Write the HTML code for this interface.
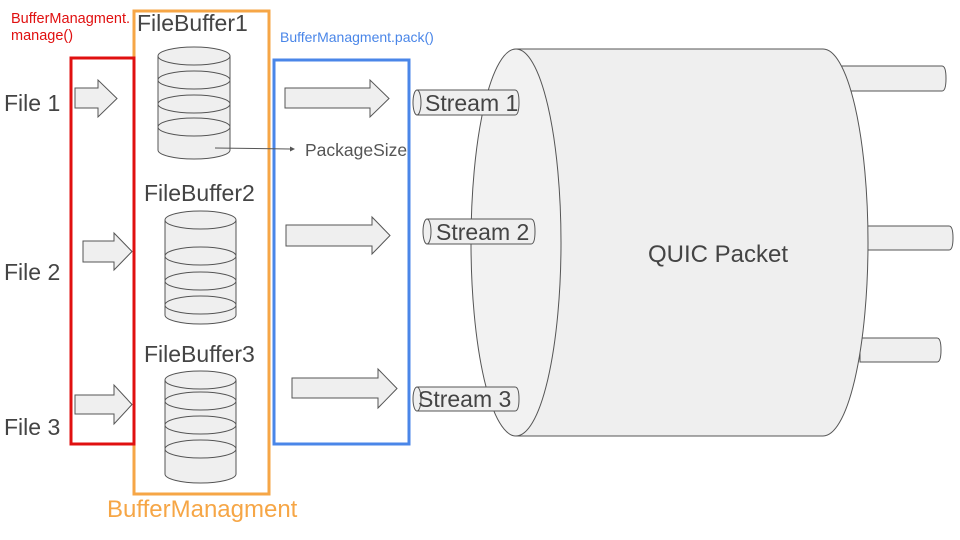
<!DOCTYPE html>
<html><head><meta charset="utf-8"><style>
html,body{margin:0;padding:0;background:#fff}
svg{display:block}
text{font-family:"Liberation Sans",Arial,sans-serif}
</style></head><body>
<svg width="960" height="540" viewBox="0 0 960 540" xmlns="http://www.w3.org/2000/svg">
<g stroke="#555" stroke-width="1" fill="#efefef">
  <path d="M840 66 H942 Q946 66 946 78.5 Q946 91 942 91 H840 Z"/>
  <path d="M860 226 H949 Q953 226 953 238 Q953 250 949 250 H860 Z"/>
  <path d="M860 338 H937 Q941 338 941 350 Q941 362 937 362 H860 Z"/>
  <path d="M516 49 H823 A45 193.5 0 0 1 823 436 H516 Z" stroke="none"/>
  <path d="M516 49 H823 A45 193.5 0 0 1 823 436 H516" fill="none"/>
  <ellipse cx="516" cy="242.5" rx="45" ry="193.5" fill="#f2f2f2"/>
</g>
<text x="718" y="262" font-size="24" fill="#444" text-anchor="middle">QUIC Packet</text>

<g stroke="#555" stroke-width="1" fill="#efefef">
  <path d="M417 90 H515 Q519 90 519 102.5 Q519 115 515 115 H417 Z"/>
  <ellipse cx="417" cy="102.5" rx="4" ry="12.5"/>
  <path d="M427 219 H531 Q535 219 535 231.5 Q535 244 531 244 H427 Z"/>
  <ellipse cx="427" cy="231.5" rx="4" ry="12.5"/>
  <path d="M417 387 H515 Q519 387 519 399 Q519 411 515 411 H417 Z"/>
  <ellipse cx="417" cy="399" rx="4" ry="12"/>
</g>
<g font-size="23" fill="#444">
  <text x="425" y="111">Stream 1</text>
  <text x="436" y="240">Stream 2</text>
  <text x="418" y="407">Stream 3</text>
</g>

<rect x="134" y="11" width="135" height="483" fill="none" stroke="#f6a646" stroke-width="3"/>
<rect x="71" y="58" width="63" height="386" fill="none" stroke="#e01010" stroke-width="3"/>
<rect x="274" y="60" width="135" height="384" fill="none" stroke="#4a86e8" stroke-width="3"/>

<g stroke="#555" stroke-width="1" fill="#efefef">
  <path d="M75 88 H98 V80 L117 98.5 L98 117 V108 H75 Z"/>
  <path d="M83 241 H114 V233 L132 251.5 L114 270 V262 H83 Z"/>
  <path d="M75 395 H114 V385 L132 404.5 L114 424 V414 H75 Z"/>
  <path d="M285 88 H370 V80 L389 98.5 L370 117 V108 H285 Z"/>
  <path d="M286 225 H372 V217 L390 235.5 L372 254 V246 H286 Z"/>
  <path d="M292 378 H378 V369 L397 388.5 L378 408 V398 H292 Z"/>
</g>

<g stroke="#555" stroke-width="1" fill="#efefef">
  <path d="M158 56 V150 A36 9 0 0 0 230 150 V56"/>
  <ellipse cx="194" cy="56" rx="36" ry="9"/>
  <path d="M158 80 A36 9 0 0 1 230 80 A36 9 0 0 1 158 80" fill="none"/>
  <path d="M158 104 A36 9 0 0 1 230 104 A36 9 0 0 1 158 104" fill="none"/>
  <path d="M158 127 A36 9 0 0 1 230 127 A36 9 0 0 1 158 127" fill="none"/>

  <path d="M165 220 V315 A35.5 9 0 0 0 236 315 V220"/>
  <ellipse cx="200.5" cy="220" rx="35.5" ry="9"/>
  <path d="M165 256 A35.5 9 0 0 1 236 256 A35.5 9 0 0 1 165 256" fill="none"/>
  <path d="M165 281 A35.5 9 0 0 1 236 281 A35.5 9 0 0 1 165 281" fill="none"/>
  <path d="M165 305 A35.5 9 0 0 1 236 305 A35.5 9 0 0 1 165 305" fill="none"/>

  <path d="M165 380 V474 A35.5 9 0 0 0 236 474 V380"/>
  <ellipse cx="200.5" cy="380" rx="35.5" ry="9"/>
  <path d="M165 401 A35.5 9 0 0 1 236 401 A35.5 9 0 0 1 165 401" fill="none"/>
  <path d="M165 425 A35.5 9 0 0 1 236 425 A35.5 9 0 0 1 165 425" fill="none"/>
  <path d="M165 449 A35.5 9 0 0 1 236 449 A35.5 9 0 0 1 165 449" fill="none"/>
</g>

<line x1="215" y1="148" x2="290" y2="149" stroke="#555" stroke-width="1"/>
<path d="M290 146.5 L295 149 L290 151.5 Z" fill="#555"/>
<text x="305" y="156" font-size="17.5" fill="#555">PackageSize</text>

<g font-size="23" fill="#444">
  <text x="4" y="111">File 1</text>
  <text x="4" y="280">File 2</text>
  <text x="4" y="435">File 3</text>
  <text x="137" y="31">FileBuffer1</text>
  <text x="144" y="201">FileBuffer2</text>
  <text x="144" y="362">FileBuffer3</text>
</g>
<text x="11" y="23" font-size="14.5" fill="#e01010">BufferManagment.</text>
<text x="11" y="40" font-size="14.5" fill="#e01010">manage()</text>
<text x="280" y="42" font-size="14" fill="#4a86e8">BufferManagment.pack()</text>
<text x="107" y="517" font-size="24" fill="#f6a646">BufferManagment</text>
</svg>
</body></html>
